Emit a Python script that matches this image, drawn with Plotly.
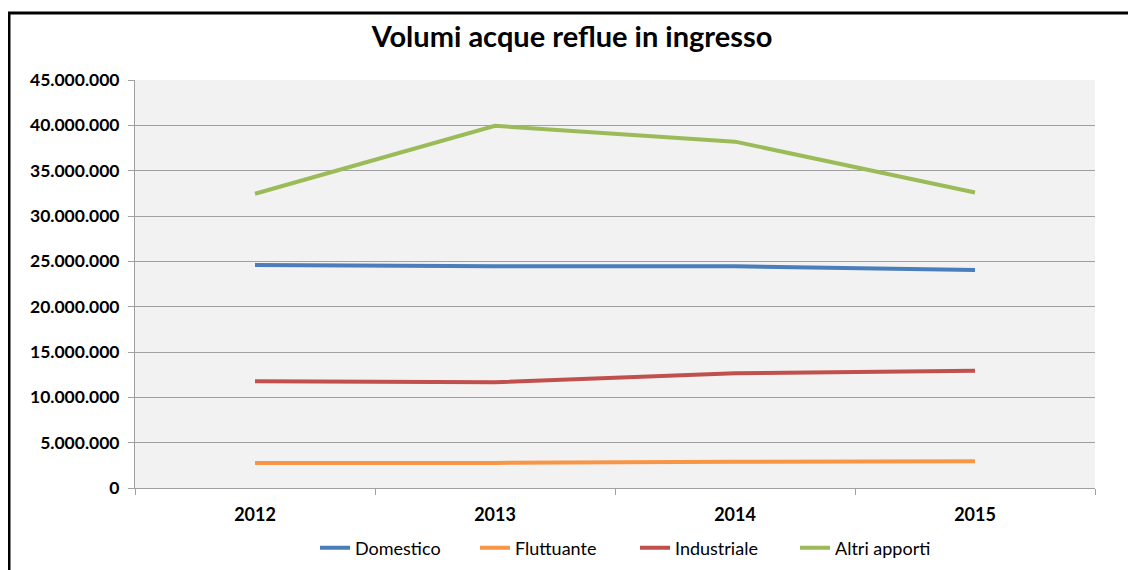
import plotly.graph_objects as go

years = ["2012", "2013", "2014", "2015"]
domestico = [24600000, 24450000, 24450000, 24050000]
fluttuante = [2760000, 2770000, 2900000, 2940000]
industriale = [11770000, 11660000, 12650000, 12940000]
altri_apporti = [32450000, 39950000, 38200000, 32600000]

series = [
    ("Domestico", domestico, "#4A7EBB"),
    ("Fluttuante", fluttuante, "#F79646"),
    ("Industriale", industriale, "#C0504D"),
    ("Altri apporti", altri_apporti, "#9BBB59"),
]

fig = go.Figure()
for name, vals, col in series:
    fig.add_trace(go.Scatter(x=years, y=vals, name=name, mode="lines",
                             line=dict(color=col, width=4)))

# page body has an 8px margin; work in window pixels and shift
OFF = 8
W, H = 1136 - OFF, 570 - OFF
L, R, T, B = 135 - OFF, 1095 - OFF, 80 - OFF, 488 - OFF
pw, ph = R - L, B - T

def px(x):
    return (x - OFF - L) / pw

def py(y):
    return (B - (y - OFF)) / ph

fig.update_layout(
    width=W, height=H,
    margin=dict(l=L, r=W - R, t=T, b=H - B, pad=0, autoexpand=False),
    paper_bgcolor="white",
    plot_bgcolor="#F2F2F2",
    font=dict(family="Lato, Open Sans, sans-serif", color="#000000"),
    separators=",.",
    title=dict(text="<b>Volumi acque reflue in ingresso</b>", x=0.5, xanchor="center",
               y=1 - (37 - OFF) / H, yanchor="middle", font=dict(size=29, color="#000000")),
    xaxis=dict(type="category", range=[-0.5, 3.5], tickson="boundaries",
               ticks="outside", ticklen=6, tickcolor="#A0A0A0",
               showline=True, linecolor="#A0A0A0", linewidth=1,
               showgrid=False, tickfont=dict(size=18), automargin=False,
               tickprefix="<b>", ticksuffix="</b>", ticklabelstandoff=10),
    yaxis=dict(range=[0, 45000000], dtick=5000000, tickformat=",d",
               ticks="outside", ticklen=6, tickcolor="#A0A0A0",
               showline=True, linecolor="#A0A0A0", linewidth=1,
               gridcolor="#A0A0A0", gridwidth=1, zeroline=False, automargin=False,
               tickfont=dict(size=17.5), tickprefix="<b>", ticksuffix="</b>",
               ticklabelstandoff=5),
    legend=dict(orientation="h", x=px(315), xanchor="left", y=py(548), yanchor="middle",
                font=dict(size=18), entrywidth=115, entrywidthmode="pixels",
                tracegroupgap=0),
    showlegend=True,
    shapes=[dict(type="rect", xref="paper", yref="paper",
                 x0=px(9), x1=px(1133), y0=py(590), y1=py(13),
                 line=dict(color="black", width=3), layer="above")],
)

fig.write_html("out.html")
